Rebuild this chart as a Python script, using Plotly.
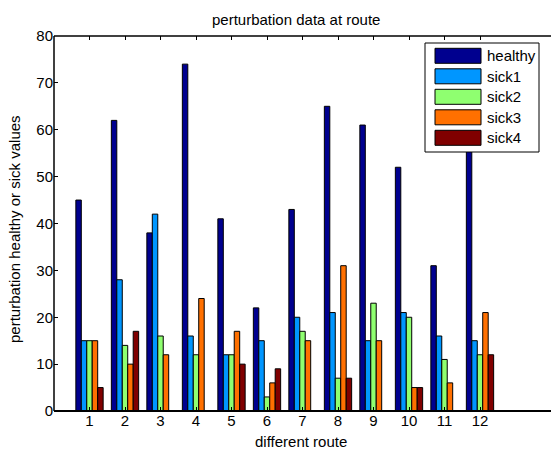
import plotly.graph_objects as go

routes = [1, 2, 3, 4, 5, 6, 7, 8, 9, 10, 11, 12]
healthy = [45, 62, 38, 74, 41, 22, 43, 65, 61, 52, 31, 68]
sick1 = [15, 28, 42, 16, 12, 15, 20, 21, 15, 21, 16, 15]
sick2 = [15, 14, 16, 12, 12, 3, 17, 7, 23, 20, 11, 12]
sick3 = [15, 10, 12, 24, 17, 6, 15, 31, 15, 5, 6, 21]
sick4 = [5, 17, 0, 0, 10, 9, 0, 7, 0, 5, 0, 12]
series_names = ["healthy", "sick1", "sick2", "sick3", "sick4"]
series_values = [healthy, sick1, sick2, sick3, sick4]
colors = ["#00008F", "#0096FF", "#8FFF70", "#FF7000", "#800000"]

W, H = 551, 449
ML, MR, MT, MB = 54, 0, 36, 38
UNIT = 35.5  # px per x unit
FONT = "Liberation Sans, Arial, Helvetica, sans-serif"
FS = 15

fig = go.Figure()
for name, vals, col in zip(series_names, series_values, colors):
    fig.add_trace(go.Bar(x=routes, y=vals, name=name, marker_color=col,
                         marker_line_color="black", marker_line_width=1,
                         showlegend=False))

# helpers: pixel -> paper coordinates (layout only)
pw = W - ML - MR
ph = H - MT - MB
def px(x):
    return (x - ML) / pw
def py(y):
    return (H - MB - y) / ph

shapes = []
annotations = []
# axis frame: left, bottom, top (right side is cropped in the reference)
shapes.append(dict(type="line", xref="paper", yref="paper", layer="above",
                   x0=0, x1=0, y0=0, y1=1, line=dict(color="black", width=1.5)))
shapes.append(dict(type="line", xref="paper", yref="paper", layer="above",
                   x0=0, x1=1, y0=0, y1=0, line=dict(color="black", width=2)))
shapes.append(dict(type="line", xref="paper", yref="paper", layer="above",
                   x0=0, x1=1, y0=1, y1=1, line=dict(color="black", width=1.5)))
# legend box
shapes.append(dict(type="rect", xref="paper", yref="paper", layer="above",
                   x0=px(425), x1=px(539), y0=py(152), y1=py(43),
                   fillcolor="white", line=dict(color="black", width=1)))
for i, (name, col) in enumerate(zip(series_names, colors)):
    cy = 55.8 + 20.5 * i
    shapes.append(dict(type="rect", xref="paper", yref="paper", layer="above",
                       x0=px(435), x1=px(481), y0=py(cy + 7.5), y1=py(cy - 7.5),
                       fillcolor=col, line=dict(color="black", width=1)))
    annotations.append(dict(xref="paper", yref="paper", x=px(485), y=py(cy),
                            text=name, showarrow=False, xanchor="left",
                            yanchor="middle", font=dict(size=FS, color="black", family=FONT)))
# axis titles and title
annotations.append(dict(xref="paper", yref="paper", x=px(301), y=py(441),
                        text="different route", showarrow=False, xanchor="center",
                        yanchor="middle", font=dict(size=FS, color="black", family=FONT)))
annotations.append(dict(xref="paper", yref="paper", x=px(15), y=py(229),
                        text="perturbation healthy or sick values", showarrow=False,
                        xanchor="center", yanchor="middle", textangle=-90,
                        font=dict(size=FS, color="black", family=FONT)))
annotations.append(dict(xref="paper", yref="paper", x=px(296), y=py(19),
                        text="perturbation data at route", showarrow=False,
                        xanchor="center", yanchor="middle",
                        font=dict(size=FS, color="black", family=FONT)))

fig.update_layout(
    width=W, height=H,
    margin=dict(l=ML, r=MR, t=MT, b=MB),
    paper_bgcolor="white", plot_bgcolor="white",
    barmode="group", bargap=0.231, bargroupgap=0,
    font=dict(family=FONT, size=FS, color="black"),
    shapes=shapes, annotations=annotations,
    showlegend=False,
)
fig.update_xaxes(range=[0, pw / UNIT], tickvals=routes, ticktext=[str(r) for r in routes],
                 ticks="inside", ticklen=4, tickcolor="black", tickwidth=1,
                 showline=False, mirror="ticks",
                 showgrid=False, zeroline=False, ticklabelstandoff=-1,
                 tickfont=dict(size=FS))
fig.update_yaxes(range=[0, 80], tickvals=list(range(0, 81, 10)),
                 ticks="inside", ticklen=4, tickcolor="black", tickwidth=1,
                 showline=False, mirror=False,
                 showgrid=False, zeroline=False,
                 tickfont=dict(size=FS))

fig.write_html("out.html", config={"displayModeBar": False},
               post_script="document.body.style.margin='0';document.body.style.overflow='hidden';")
